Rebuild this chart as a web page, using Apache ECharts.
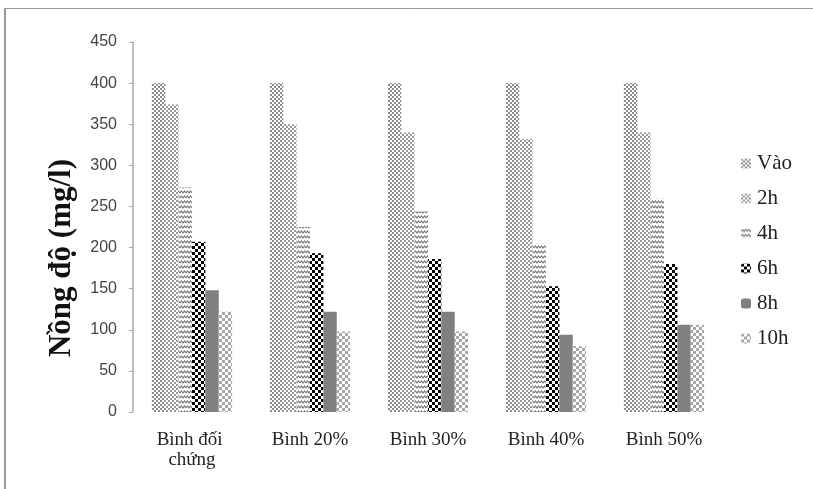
<!DOCTYPE html>
<html>
<head>
<meta charset="utf-8">
<script src="https://cdn.jsdelivr.net/npm/echarts@6/dist/echarts.min.js"></script>
<style>
html,body{margin:0;padding:0;background:#fff;}
#chart{width:813px;height:489px;}
</style>
</head>
<body>
<div id="chart"></div>
<script>
var categories = ['Bình đối chứng', 'Bình 20%', 'Bình 30%', 'Bình 40%', 'Bình 50%'];
var seriesNames = ['Vào', '2h', '4h', '6h', '8h', '10h'];
var vao = [400, 400, 400, 400, 400];
var h2 = [374, 350, 340, 332, 340];
var h4 = [273, 225, 244, 205, 260];
var h6 = [207, 193, 186, 153, 180];
var h8 = [148, 122, 122, 94, 106];
var h10 = [122, 98, 98, 80, 106];
var yTicks = [0, 50, 100, 150, 200, 250, 300, 350, 400, 450];
var yTitle = 'Nồng độ (mg/l)';

function tile(w, h, draw) {
  var c = document.createElement('canvas');
  c.width = w; c.height = h;
  var ctx = c.getContext('2d');
  ctx.fillStyle = '#ffffff';
  ctx.fillRect(0, 0, w, h);
  draw(ctx);
  return { image: c, repeat: 'repeat' };
}
function checker(size, col) {
  return tile(size * 2, size * 2, function (ctx) {
    ctx.fillStyle = col;
    ctx.fillRect(0, 0, size, size);
    ctx.fillRect(size, size, size, size);
  });
}
var patVao = checker(2, '#8c8c8c');
var pat2h = checker(2, '#9a9a9a');
var pat4h = tile(6, 5, function (ctx) {
  ctx.strokeStyle = '#7a7a7a';
  ctx.lineWidth = 1.2;
  ctx.beginPath();
  ctx.moveTo(0, 3); ctx.lineTo(1.5, 1); ctx.lineTo(3, 3); ctx.lineTo(4.5, 1); ctx.lineTo(6, 3);
  ctx.stroke();
});
var pat6h = checker(3, '#000000');
var pat8h = '#808080';
var pat10h = checker(3, '#a8a8a8');
var patterns = [patVao, pat2h, pat4h, pat6h, pat8h, pat10h];
var dataSets = [vao, h2, h4, h6, h8, h10];

var series = seriesNames.map(function (n, i) {
  return {
    name: n,
    type: 'bar',
    data: dataSets[i],
    barGap: '0%',
    barCategoryGap: '32%',
    itemStyle: { color: patterns[i] },
    emphasis: { disabled: true }
  };
});

var chart = echarts.init(document.getElementById('chart'), null, { renderer: 'canvas' });
chart.setOption({
  animation: false,
  backgroundColor: '#ffffff',
  grid: { left: 133, top: 42, width: 590, bottom: 77, containLabel: false, outerBoundsMode: 'none' },
  legend: {
    orient: 'vertical',
    left: 736,
    top: 147,
    itemWidth: 10,
    itemHeight: 10,
    itemGap: 12,
    data: seriesNames,
    textStyle: { fontFamily: 'Liberation Serif', fontSize: 21, color: '#222', lineHeight: 23, padding: [0, 0, 0, 1] }
  },
  xAxis: {
    type: 'category',
    data: categories,
    axisLine: { show: false },
    axisTick: { show: false },
    axisLabel: {
      interval: 0,
      margin: 18,
      fontFamily: 'Liberation Serif',
      fontSize: 19,
      color: '#222',
      width: 112,
      overflow: 'break',
      lineHeight: 20
    }
  },
  yAxis: {
    type: 'value',
    min: yTicks[0],
    max: yTicks[yTicks.length - 1],
    interval: 50,
    axisLine: { show: true, lineStyle: { color: '#aaaaaa', width: 1.5 } },
    axisTick: { show: true, length: 4, lineStyle: { color: '#aaaaaa' } },
    splitLine: { show: false },
    axisLabel: { margin: 16, fontFamily: 'Liberation Sans', fontSize: 16, color: '#444' }
  },
  graphic: [
    { type: 'line', shape: { x1: 4, y1: 8.5, x2: 813, y2: 8.5 }, style: { stroke: '#9a9a9a', lineWidth: 1 } },
    { type: 'line', shape: { x1: 5, y1: 8, x2: 5, y2: 489 }, style: { stroke: '#9a9a9a', lineWidth: 2 } },
    {
      type: 'text',
      x: 62, y: 258,
      rotation: Math.PI / 2,
      style: {
        text: yTitle,
        fontFamily: 'Liberation Serif',
        fontWeight: 'bold',
        fontSize: 31,
        fill: '#111',
        align: 'center',
        verticalAlign: 'middle'
      }
    }
  ],
  series: series
});
</script>
</body>
</html>
